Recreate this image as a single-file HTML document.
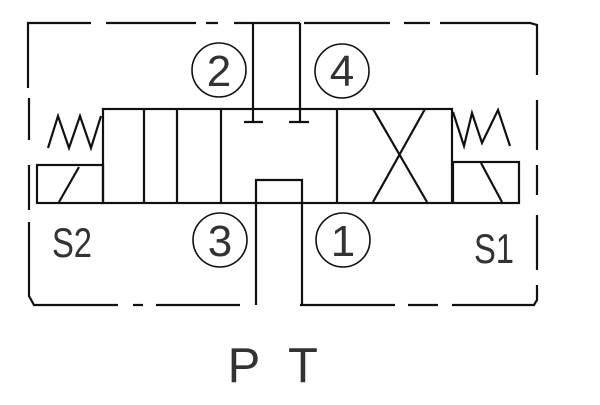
<!DOCTYPE html>
<html><head><style>body{margin:0;background:#fff}svg{display:block}</style></head><body>
<svg width="600" height="405" viewBox="0 0 600 405" xmlns="http://www.w3.org/2000/svg">
<g fill="none" stroke="#111" stroke-width="2.2">
<path d="M91 23 H28 V88" />
<path d="M106 23 H196 M206 23 H218 M234 23 H300 M304 23 H390 M404 23 H430 M440 23 H530 L537 25 V75"/>
<path d="M29 98 V140 M29 165 V210 M29 222 V296 L34 305 H118 M133 305 H143 M156 305 H240"/>
<path d="M300 305 H395 M408 305 H438 M452 305 H534 L537 300 V285 M537 270 V215 M537 195 V165 M537 150 V100"/>
<rect x="103" y="109" width="349" height="94"/>
<line x1="144" y1="109" x2="144" y2="203"/>
<line x1="177" y1="109" x2="177" y2="203"/>
<line x1="221" y1="109" x2="221" y2="203"/>
<line x1="337" y1="109" x2="337" y2="203"/>
<line x1="373" y1="109" x2="427" y2="202"/>
<line x1="425" y1="109" x2="373" y2="202"/>
<line x1="253" y1="23" x2="253" y2="122"/>
<line x1="300" y1="23" x2="300" y2="122"/>
<line x1="244" y1="122" x2="263" y2="122"/>
<line x1="289" y1="122" x2="309" y2="122"/>
<path d="M256 305 V180 H302 V305"/>
<path d="M48 148 L58 116 L69 148 L80 116 L91 148 L101 116"/>
<rect x="37" y="165" width="66" height="38"/>
<line x1="79" y1="167" x2="59" y2="202"/>
<path d="M453 112 L464 146 L472 113 L482 143 L498 110 L510 146"/>
<rect x="453" y="162" width="66" height="41"/>
<line x1="481" y1="163" x2="502" y2="202"/>
<circle cx="219" cy="70" r="27" stroke-width="1.6"/>
<circle cx="342" cy="71" r="27" stroke-width="1.6"/>
<circle cx="220" cy="240" r="27" stroke-width="1.6"/>
<circle cx="343" cy="240" r="27" stroke-width="1.6"/>
</g>
<g font-family="Liberation Sans, sans-serif" fill="#333" text-anchor="middle">
<text x="219" y="86" font-size="44">2</text>
<text x="342" y="86" font-size="44">4</text>
<text x="220" y="256" font-size="44">3</text>
<text x="343" y="256" font-size="44">1</text>
<text x="72" y="257" font-size="42" transform="translate(72 0) scale(0.78 1) translate(-72 0)">S2</text>
<text x="494" y="263" font-size="42" transform="translate(494 0) scale(0.78 1) translate(-494 0)">S1</text>
<text x="244" y="382" font-size="49">P</text>
<text x="303" y="382" font-size="49">T</text>
</g>
</svg>
</body></html>
